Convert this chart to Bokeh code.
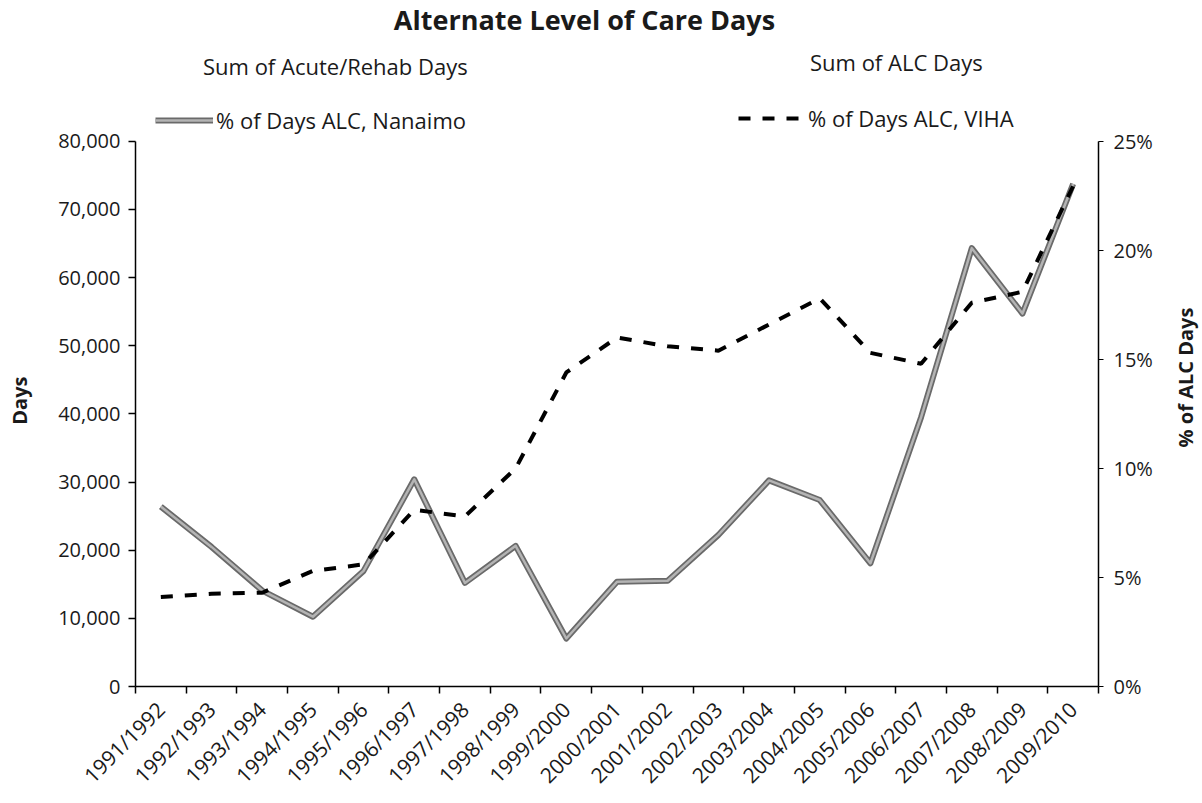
from math import pi
from bokeh.plotting import figure
from bokeh.layouts import row
from bokeh.models import (Range1d, LinearAxis, FixedTicker, NumeralTickFormatter,
                          PrintfTickFormatter, Legend, LegendItem, Label, ColumnDataSource)
from bokeh.embed import file_html
from bokeh.resources import INLINE

periods = ["1991/1992", "1992/1993", "1993/1994", "1994/1995", "1995/1996",
           "1996/1997", "1997/1998", "1998/1999", "1999/2000", "2000/2001",
           "2001/2002", "2002/2003", "2003/2004", "2004/2005", "2005/2006",
           "2006/2007", "2007/2008", "2008/2009", "2009/2010"]

# % of days ALC (read against the right axis)
pct_nanaimo = [8.25, 6.4, 4.4, 3.2, 5.3, 9.5, 4.75, 6.45, 2.2, 4.8,
               4.85, 6.95, 9.45, 8.55, 5.65, 12.35, 20.1, 17.1, 23.05]
pct_viha = [4.1, 4.25, 4.3, 5.3, 5.6, 8.1, 7.8, 10.0, 14.4, 16.0,
            15.6, 15.4, 16.6, 17.8, 15.3, 14.8, 17.6, 18.1, 22.95]

DAYS_MAX = 80000
PCT_MAX = 25

FONT = "Open Sans"
TXT = "#1a1a1a"
NB = "\u00a0"

# layout (px): the frame reaches the top of the canvas so that the title and
# legend rows can live inside it; the axes are bounded to the data area.
W, H = 1160, 801
SIDE_W = 40
BORDER_L, BORDER_R, BORDER_B = 135, 62, 114
FRAME_H = H - BORDER_B            # 687
AXIS_H = 546                      # height of the 0..80,000 part
scale_top = FRAME_H / AXIS_H

n = len(periods)
xs = list(range(n))

p = figure(width=W, height=H, output_backend="svg", toolbar_location=None,
           x_range=Range1d(-0.5, n - 0.5),
           y_range=Range1d(0, DAYS_MAX * scale_top),
           min_border_left=BORDER_L, min_border_right=BORDER_R, min_border_top=0,
           min_border_bottom=BORDER_B, y_axis_location=None, x_axis_location=None)
p.outline_line_color = None
p.grid.visible = False
p.background_fill_color = "white"
p.border_fill_color = "white"
p.extra_y_ranges = {"pct": Range1d(0, PCT_MAX * scale_top)}

yl = LinearAxis(ticker=FixedTicker(ticks=list(range(0, DAYS_MAX + 1, 10000))),
                formatter=NumeralTickFormatter(format="0,0"), bounds=(0, DAYS_MAX))
yl.axis_label = "Days" + NB * 22
yl.axis_label_text_font = FONT
yl.axis_label_text_font_style = "bold"
yl.axis_label_text_font_size = "20px"
yl.axis_label_text_color = TXT
yl.axis_label_standoff = 22
yl.major_label_text_font = FONT
yl.major_label_text_font_size = "20px"
yl.major_label_text_color = TXT
yl.major_label_standoff = 8
yl.major_tick_out = 7
yl.major_tick_in = 0
yl.minor_tick_out = 0
yl.axis_line_width = 1.5
yl.major_tick_line_width = 1.5
p.add_layout(yl, "left")

yr = LinearAxis(y_range_name="pct", ticker=FixedTicker(ticks=[0, 5, 10, 15, 20, 25]),
                formatter=PrintfTickFormatter(format="%d%%"), bounds=(0, PCT_MAX))
yr.major_label_text_font = FONT
yr.major_label_text_font_size = "20px"
yr.major_label_text_color = TXT
yr.major_label_standoff = 10
yr.major_tick_out = 5
yr.major_tick_in = 0
yr.minor_tick_out = 0
yr.axis_line_width = 1.5
p.add_layout(yr, "right")

xa = LinearAxis(ticker=FixedTicker(ticks=xs, minor_ticks=[i - 0.5 for i in range(n + 1)]),
                major_label_overrides={i: lab for i, lab in enumerate(periods)})
xa.major_label_orientation = pi / 4
xa.major_label_text_font = FONT
xa.major_label_text_font_size = "21px"
xa.major_label_text_color = TXT
xa.major_label_standoff = 12
xa.major_tick_out = 0
xa.major_tick_in = 0
xa.minor_tick_out = 7
xa.minor_tick_in = 0
xa.minor_tick_line_color = "black"
xa.minor_tick_line_width = 1.5
xa.axis_line_width = 1.5
p.add_layout(xa, "below")

# bar series of the legend (faded out in the reference)
empty = ColumnDataSource(data=dict(x=[], top=[]))
bar_acute = p.vbar(x="x", top="top", width=0.6, source=empty,
                   fill_color="white", line_color=None)
bar_alc = p.vbar(x="x", top="top", width=0.6, source=empty,
                 fill_color="#f6f6f6", line_color=None)

src = ColumnDataSource(data=dict(x=xs, nan=pct_nanaimo, viha=pct_viha))
n_out = p.line("x", "nan", source=src, y_range_name="pct",
               line_color="#6a6a6a", line_width=6, line_join="round")
n_in = p.line("x", "nan", source=src, y_range_name="pct",
              line_color="#b4b4b4", line_width=2.5, line_join="round")
v_line = p.line("x", "viha", source=src, y_range_name="pct",
                line_color="black", line_width=4, line_dash="12 12")


def mk_legend(label, rens, loc, gw, standoff):
    lg = Legend(items=[LegendItem(label=label, renderers=rens)], location=loc,
                glyph_width=gw, glyph_height=20, label_height=20,
                label_standoff=standoff, padding=0, margin=0, spacing=0,
                label_text_font=FONT, label_text_font_size="22px",
                label_text_color=TXT, background_fill_alpha=0,
                border_line_alpha=0)
    p.add_layout(lg)


mk_legend("Sum of Acute/Rehab Days", [bar_acute], (20, 605), 40, 8)
mk_legend("Sum of ALC Days", [bar_alc], (610, 609), 55, 10)
mk_legend("% of Days ALC, Nanaimo", [n_out, n_in], (20, 551), 58, 3)
mk_legend("% of Days ALC, VIHA", [v_line], (603, 553), 67, 3)

p.add_layout(Label(x=449, y=667, x_units="screen", y_units="screen",
                   text="Alternate Level of Care Days", text_align="center",
                   text_baseline="middle", text_font=FONT, text_font_style="bold",
                   text_font_size="27px", text_color=TXT))

# narrow strip on the right holding the secondary axis title
s = figure(width=SIDE_W, height=H, output_backend="svg", toolbar_location=None,
           x_range=Range1d(0, 1), y_range=Range1d(0, 1),
           min_border_left=0, min_border_right=0, min_border_top=0,
           min_border_bottom=BORDER_B, x_axis_location=None, y_axis_location=None)
s.outline_line_color = None
s.grid.visible = False
s.background_fill_color = "white"
s.border_fill_color = "white"
s.add_layout(Label(x=25, y=FRAME_H - 378, x_units="screen", y_units="screen",
                   text="% of ALC Days", angle=pi / 2, text_align="center",
                   text_baseline="middle", text_font=FONT, text_font_style="bold",
                   text_font_size="20px", text_color=TXT))

layout = row(p, s, spacing=0)
open("out.html", "w").write(file_html(layout, INLINE))
